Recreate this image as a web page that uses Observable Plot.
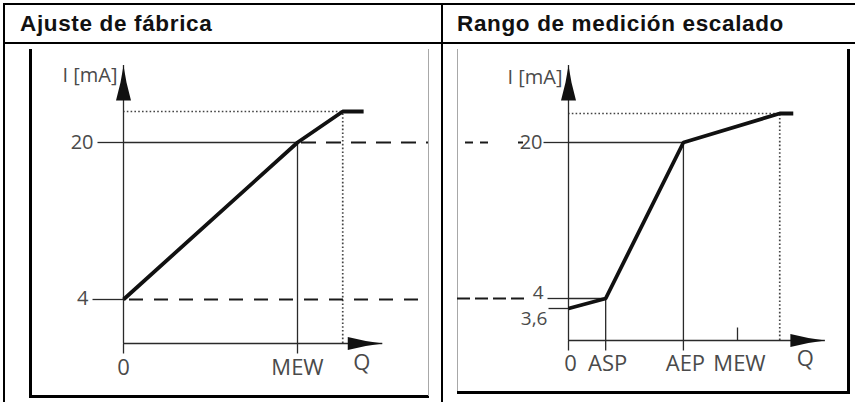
<!DOCTYPE html>
<html>
<head>
<meta charset="utf-8">
<script src="https://cdn.jsdelivr.net/npm/d3@7"></script>
<script src="https://cdn.jsdelivr.net/npm/@observablehq/plot@0.6"></script>
<style>
  html, body { margin: 0; padding: 0; background: #fff; }
  #fig { position: relative; width: 855px; height: 402px; overflow: hidden; background: #fff;
         font-family: "Liberation Sans", Arial, sans-serif; }
  .ln { position: absolute; background: #000; }
  .gray { background: #a8a8a8; }
  .title { position: absolute; top: 7px; font-weight: bold; font-size: 22.5px; letter-spacing: 0.65px;
           color: #111; white-space: nowrap; line-height: 34px; }
  .plotbox { position: absolute; top: 44px; }
  .plotbox svg { display: block; overflow: visible; }
</style>
</head>
<body>
<div id="fig">
  <!-- table frame -->
  <div class="ln" style="left:3px;top:3px;width:852px;height:2px"></div>
  <div class="ln" style="left:3px;top:42px;width:852px;height:2px"></div>
  <div class="ln" style="left:3px;top:3px;width:2px;height:399px"></div>
  <div class="ln" style="left:441px;top:3px;width:2px;height:399px"></div>
  <!-- left panel box -->
  <div class="ln" style="left:29px;top:49px;width:3px;height:349px"></div>
  <div class="ln" style="left:29px;top:395px;width:400px;height:3px"></div>
  <div class="ln gray" style="left:428px;top:49px;width:1px;height:347px"></div>
  <!-- right panel box -->
  <div class="ln gray" style="left:457px;top:49px;width:1px;height:343px"></div>
  <div class="ln" style="left:847px;top:49px;width:3px;height:345px"></div>
  <div class="ln" style="left:457px;top:391px;width:393px;height:3px"></div>

  <div class="title" id="t1" style="left:20px"></div>
  <div class="title" id="t2" style="left:457px"></div>
  <div class="plotbox" id="pl" style="left:0px"></div>
  <div class="plotbox" id="pr" style="left:441px"></div>
</div>
<script>
// ---------- data ----------
const leftTitle = "Ajuste de fábrica";
const rightTitle = "Rango de medición escalado";
const yAxisLabel = "I [mA]";
const xAxisLabel = "Q";

// current levels (mA) used on the diagram; x-axis sits at 0, axis arrow at iAxisEnd
const iLevels = [0, 3.6, 4, 20, 20.5, 22];
const iLimit = 20.5;
const iAxisEnd = 22;

// left panel: factory setting (Q as % of MEW)
const leftQ = [0, 100, 126, 138];
const leftI = [4, 20, 20.5, 20.5];
const leftLimitQ = 126;
const leftQEnd = 149;
const leftXTicks = [0, 100];
const leftXLabels = ["0", "MEW"];
const leftYTicks = [20, 4];
const leftYLabels = ["20", "4"];

// right panel: scaled measuring range
const rightQ = [0, 22, 68, 125, 133];
const rightI = [3.6, 4, 20, 20.5, 20.5];
const rightLimitQ = 125;
const rightQEnd = 152;
const rightXTicks = [0, 22, 68, 100];
const rightXLabels = ["0", "ASP", "AEP", "MEW"];
const rightYTicks = [20, 4, 3.6];
const rightYLabels = ["20", "4", "3,6"];

document.getElementById("t1").textContent = leftTitle;
document.getElementById("t2").textContent = rightTitle;

// ---------- styles ----------
const thin = {stroke: "#2a2a2a", strokeWidth: 1.3};
const dotted = {stroke: "#444", strokeWidth: 1.7, strokeDasharray: "1.6,2.2"};
const dash = {stroke: "#1a1a1a", strokeWidth: 2};
const curve = {stroke: "#111", strokeWidth: 3.8, strokeLinecap: "butt", strokeLinejoin: "miter"};
const txt = {fontFamily: "'Open Sans', sans-serif", fontWeight: 400, fill: "#4a4a4a"};

const arrowUp = {draw(c) { c.moveTo(0, 0); c.lineTo(3, 17); c.lineTo(7.5, 35); c.lineTo(-7.5, 35); c.lineTo(-3, 17); c.closePath(); }};
const arrowRight = {draw(c) { c.moveTo(0, 0); c.lineTo(-17, -2.5); c.lineTo(-35, -6.5); c.lineTo(-35, 6.5); c.lineTo(-17, 2.5); c.closePath(); }};
const seg = (dx, dy) => ({draw(c) { c.moveTo(0, 0); c.lineTo(dx, dy); }});

function pts(q, i) { return q.map((v, k) => ({q: v, i: i[k]})); }

function yLabel(label, value, dx, dy, fontSize = 20) {
  return Plot.text([label], {x: 0, y: value, text: d => d, textAnchor: "end", dx, dy, fontSize, ...txt});
}

// the diagram's current axis is not to scale: a piecewise warp of the mA levels
function yWarp(levelsPx) {
  const w = d3.scaleLinear().domain(iLevels).range(levelsPx);
  return v => w(v);
}

// ---------- left panel ----------
const left = Plot.plot({
  width: 441, height: 358,
  marginLeft: 0, marginRight: 13, marginTop: 0, marginBottom: 0,
  x: {domain: [0, 100], range: [123, 297], axis: null},
  y: {type: "linear", transform: yWarp([299, 265, 255, 98, 67, 21]), domain: [0, 358], range: [0, 358], axis: null},
  style: {background: "transparent", overflow: "visible"},
  marks: [
    Plot.ruleY([iLimit], {x1: 0, x2: leftLimitQ, ...dotted}),
    Plot.ruleX([leftLimitQ], {y1: 0, y2: iLimit, ...dotted}),
    // dashed continuations out to the panel's right edge
    Plot.ruleY([20], {x1: 100, x2: 100, insetRight: -131, ...dash, strokeDasharray: "15,10", strokeDashoffset: -4}),
    Plot.ruleY([4], {x1: 0, x2: 0, insetLeft: 6, insetRight: -305, ...dash, strokeDasharray: "14,11"}),
    Plot.ruleY([20], {x1: 0, x2: 100, ...thin}),
    Plot.ruleX([100], {y1: 0, y2: 20, ...thin}),
    Plot.ruleX([0], {y1: 0, y2: iAxisEnd, ...thin}),
    Plot.ruleY([0], {x1: 0, x2: leftQEnd, ...thin}),
    Plot.dot(leftXTicks, {x: d => d, y: 0, symbol: seg(0, 10), fill: "none", ...thin}),
    Plot.dot([20], {x: 0, y: d => d, symbol: seg(-26, 0), fill: "none", ...thin}),
    Plot.dot([4], {x: 0, y: d => d, symbol: seg(-31, 0), fill: "none", ...thin}),
    Plot.line(pts(leftQ, leftI), {x: "q", y: "i", ...curve}),
    Plot.dot([iAxisEnd], {x: 0, y: d => d, symbol: arrowUp, fill: "#111", stroke: "none"}),
    Plot.dot([leftQEnd], {x: d => d, y: 0, symbol: arrowRight, fill: "#111", stroke: "none"}),
    yLabel(leftYLabels[0], leftYTicks[0], -30, 0),
    yLabel(leftYLabels[1], leftYTicks[1], -35, -1),
    Plot.text(leftXLabels, {x: (d, k) => leftXTicks[k], y: 0, text: d => d, dy: 24, fontSize: 22, ...txt}),
    Plot.text([xAxisLabel], {x: leftQEnd, y: 0, text: d => d, dx: -21, dy: 19, fontSize: 22, ...txt}),
    Plot.text([yAxisLabel], {x: 0, y: iAxisEnd, text: d => d, textAnchor: "end", dx: -6, dy: 10, fontSize: 20, ...txt})
  ]
});
document.getElementById("pl").appendChild(left);

// ---------- right panel ----------
const right = Plot.plot({
  width: 414, height: 358,
  marginLeft: 16, marginRight: 0, marginTop: 0, marginBottom: 0,
  x: {domain: [0, 100], range: [127, 296], axis: null},
  y: {type: "linear", transform: yWarp([296, 264, 254, 98, 69, 21]), domain: [0, 358], range: [0, 358], axis: null},
  style: {background: "transparent", overflow: "visible"},
  marks: [
    Plot.ruleY([iLimit], {x1: 0, x2: rightLimitQ, ...dotted}),
    Plot.ruleX([rightLimitQ], {y1: 0, y2: iLimit, ...dotted}),
    // dashed continuations coming in from the left panel
    Plot.ruleY([20], {x1: 0, x2: 0, insetLeft: -103, insetRight: 78, ...dash, strokeDasharray: "8,7"}),
    Plot.ruleY([20], {x1: 0, x2: 0, insetLeft: -50, insetRight: 45, ...dash}),
    Plot.ruleY([4], {x1: 0, x2: 0, insetLeft: -111, insetRight: 43, ...dash, strokeDasharray: "13,5"}),
    Plot.ruleY([20], {x1: 0, x2: 68, ...thin}),
    Plot.ruleY([4], {x1: 0, x2: 22, ...thin}),
    Plot.ruleX([22], {y1: 0, y2: 4, ...thin}),
    Plot.ruleX([68], {y1: 0, y2: 20, ...thin}),
    Plot.ruleX([0], {y1: 0, y2: iAxisEnd, ...thin}),
    Plot.ruleY([0], {x1: 0, x2: rightQEnd, ...thin}),
    Plot.dot(rightXTicks.slice(0, 3), {x: d => d, y: 0, symbol: seg(0, 10), fill: "none", ...thin}),
    Plot.dot([100], {x: d => d, y: 0, symbol: seg(0, -13), fill: "none", ...thin}),
    Plot.dot([20], {x: 0, y: d => d, symbol: seg(-25, 0), fill: "none", ...thin}),
    Plot.dot([4], {x: 0, y: d => d, symbol: seg(-21, 0), fill: "none", ...thin}),
    Plot.dot([3.6], {x: 0, y: d => d, symbol: seg(-20, 0), fill: "none", ...thin}),
    Plot.line(pts(rightQ, rightI), {x: "q", y: "i", ...curve}),
    Plot.dot([iAxisEnd], {x: 0, y: d => d, symbol: arrowUp, fill: "#111", stroke: "none"}),
    Plot.dot([rightQEnd], {x: d => d, y: 0, symbol: arrowRight, fill: "#111", stroke: "none"}),
    yLabel(rightYLabels[0], rightYTicks[0], -26, 0),
    yLabel(rightYLabels[1], rightYTicks[1], -25, -6, 19),
    yLabel(rightYLabels[2], rightYTicks[2], -21, 10, 19),
    Plot.text(rightXLabels, {x: (d, k) => rightXTicks[k], y: 0, text: d => d, dx: 2, dy: 23, fontSize: 22, ...txt}),
    Plot.text([xAxisLabel], {x: rightQEnd, y: 0, text: d => d, dx: -20, dy: 18, fontSize: 22, ...txt}),
    Plot.text([yAxisLabel], {x: 0, y: iAxisEnd, text: d => d, textAnchor: "end", dx: -6, dy: 12, fontSize: 20, ...txt})
  ]
});
document.getElementById("pr").appendChild(right);
</script>
</body>
</html>
